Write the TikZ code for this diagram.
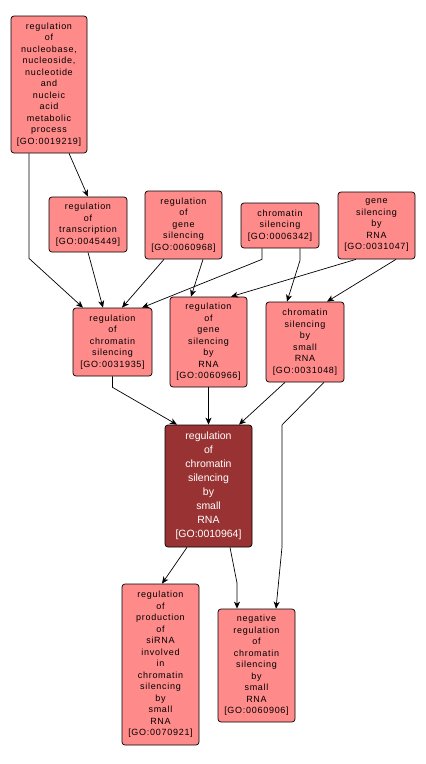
\documentclass[tikz,border=0pt]{standalone}
\usepackage{fontspec}
\usetikzlibrary{arrows.meta}
\newfontfamily\lbl[LetterSpace=8]{Liberation Sans}
\newfontfamily\lblmain{Liberation Sans}
\definecolor{gofill}{HTML}{FF8A8A}
\definecolor{gomain}{HTML}{993333}
\tikzset{
  go/.style={draw=black, line width=0.7pt, rounded corners=3pt, fill=gofill,
    align=center, inner sep=0pt, text=black,
    font=\lbl\fontsize{9}{11.5}\selectfont},
  gomainbox/.style={go, fill=gomain, text=white,
    font=\lblmain\fontsize{10.5}{14}\selectfont},
  edge/.style={draw=black, line width=0.7pt, -{Stealth[length=7pt,width=6pt,inset=2pt]}}
}
\begin{document}
\begin{tikzpicture}[x=1pt,y=-1pt]
\useasboundingbox (0,0) rectangle (426,764);
\node[go, minimum width=76, minimum height=137] (A) at (49,84.5)
  {regulation\\of\\nucleobase,\\nucleoside,\\nucleotide\\and\\nucleic\\acid\\metabolic\\process\\{[GO:0019219]}};
\node[go, minimum width=78, minimum height=55] (B) at (88,224.5)
  {regulation\\of\\transcription\\{[GO:0045449]}};
\node[go, minimum width=77, minimum height=68] (C) at (183.5,225)
  {regulation\\of\\gene\\silencing\\{[GO:0060968]}};
\node[go, minimum width=78, minimum height=45] (D) at (280,225.5)
  {chromatin\\silencing\\{[GO:0006342]}};
\node[go, minimum width=77, minimum height=67] (E) at (376.5,225.5)
  {gene\\silencing\\by\\RNA\\{[GO:0031047]}};
\node[go, minimum width=79, minimum height=68] (F) at (112.5,342)
  {regulation\\of\\chromatin\\silencing\\{[GO:0031935]}};
\node[go, minimum width=77, minimum height=90] (G) at (208.5,342)
  {regulation\\of\\gene\\silencing\\by\\RNA\\{[GO:0060966]}};
\node[go, minimum width=78, minimum height=80] (H) at (305,342)
  {chromatin\\silencing\\by\\small\\RNA\\{[GO:0031048]}};
\node[gomainbox, minimum width=87, minimum height=122] (I) at (208.5,486)
  {regulation\\of\\chromatin\\silencing\\by\\small\\RNA\\{[GO:0010964]}};
\node[go, minimum width=77, minimum height=161] (J) at (160.5,664.5)
  {regulation\\of\\production\\of\\siRNA\\involved\\in\\chromatin\\silencing\\by\\small\\RNA\\{[GO:0070921]}};
\node[go, minimum width=77, minimum height=113] (K) at (256.5,665.5)
  {negative\\regulation\\of\\chromatin\\silencing\\by\\small\\RNA\\{[GO:0060906]}};
% edges
\draw[edge] ([xshift=20]A.south) -- (B.north);
\draw[edge] ([xshift=-20]A.south) -- ++(0,105) -- ([xshift=-29.5]F.north);
\draw[edge] (B.south) -- ([xshift=-9.5]F.north);
\draw[edge] ([xshift=-19.5]C.south) -- ([xshift=9.5]F.north);
\draw[edge] ([xshift=19.5]C.south) -- ([xshift=-17.5]G.north);
\draw[edge] ([xshift=-18]D.south) -- ++(0,11) -- ([xshift=29.5]F.north);
\draw[edge] ([xshift=20]D.south) -- ++(0,12) -- ([xshift=-18]H.north);
\draw[edge] ([xshift=-20.5]E.south) -- ([xshift=22.5]G.north);
\draw[edge] ([xshift=19.5]E.south) -- ([xshift=22]H.north);
\draw[edge] (F.south) -- ++(0,11) -- ([xshift=-31.5]I.north);
\draw[edge] (G.south) -- (I.north);
\draw[edge] ([xshift=-20]H.south) -- ([xshift=30.5]I.north);
\draw[edge] ([xshift=19]H.south) -- (282,425) -- (282,547) -- ([xshift=19.5]K.north);
\draw[edge] ([xshift=-21.5]I.south) -- ([xshift=1.5]J.north);
\draw[edge] ([xshift=21.5]I.south) -- (237,583) -- ([xshift=-19.5]K.north);
\end{tikzpicture}
\end{document}
